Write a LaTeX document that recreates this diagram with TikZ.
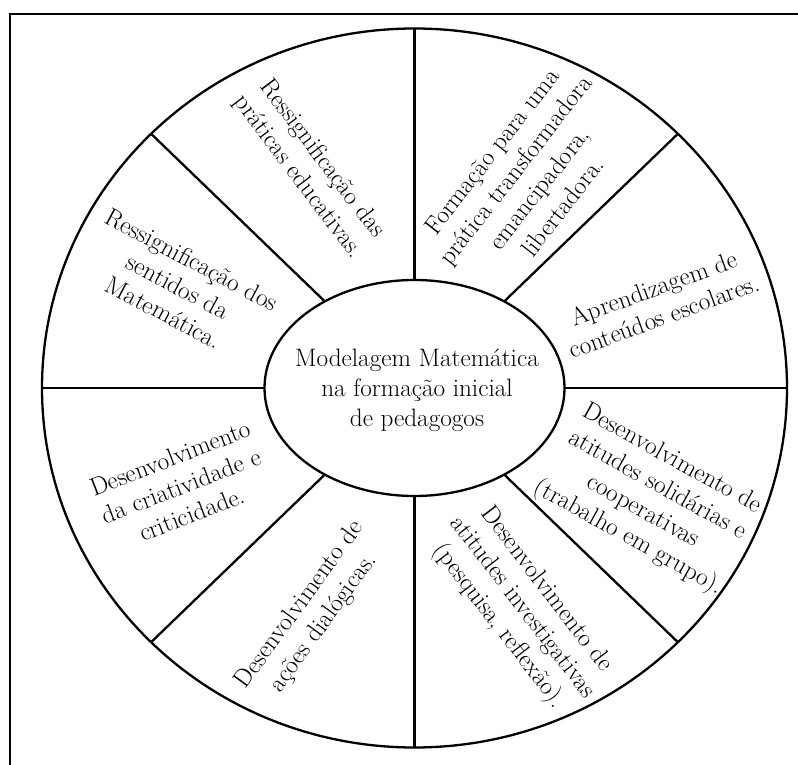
\documentclass[tikz,border=0pt]{standalone}
\usepackage{fontspec}
\usetikzlibrary{calc}
\begin{document}
\begin{tikzpicture}[x=1pt,y=1pt,
  ring/.style={line width=2.3pt},
  label/.style={align=center,inner sep=0pt,font=\fontsize{25.2}{30}\selectfont},
  divider/.style={line width=2.3pt}]
\useasboundingbox (0,0) rectangle (798,764);
% frame (only left and top edges visible)
\coordinate (fbl) at (9.5,-2);
\coordinate (ftl) at (9.5,750);
\coordinate (ftr) at (800,750);
\draw[line width=2pt] (fbl) -- (ftl) -- (ftr);
% centre
\coordinate (C) at (414.5,376);
\draw[ring] (C) ellipse [x radius=372.5, y radius=359.5];
\draw[ring] (C) ellipse [x radius=150, y radius=108];
% division points
\coordinate (oN) at (414.5,735.5);  \coordinate (iN) at (414.5,484);
\coordinate (oS) at (414.5,16.5);   \coordinate (iS) at (414.5,268);
\coordinate (oW) at (42,376);       \coordinate (iW) at (264.5,376);
\coordinate (oE) at (787,376);      \coordinate (iE) at (564.5,376);
\coordinate (oNE) at ($(C)+(263.4,254.2)$);   \coordinate (iNE) at ($(C)+(89.7,86.6)$);
\coordinate (oNW) at ($(C)+(-263.4,254.2)$);  \coordinate (iNW) at ($(C)+(-89.7,86.6)$);
\coordinate (oSW) at ($(C)+(-263.4,-254.2)$); \coordinate (iSW) at ($(C)+(-89.7,-86.6)$);
\coordinate (oSE) at ($(C)+(263.4,-254.2)$);  \coordinate (iSE) at ($(C)+(89.7,-86.6)$);
\foreach \d in {N,S,W,E,NE,NW,SW,SE} \draw[divider] (i\d) -- (o\d);
% centre text
\node[label] (core) at (417,374) {Modelagem Matemática\\na formação inicial\\de pedagogos};
% sector texts
\node[label,rotate=20] (t1) at (659,462) {Aprendizagem de\\conteúdos escolares.};
\node[label,rotate=52] (t2) at (527,585) {Formação para uma\\prática transformadora\\emancipadora,\\libertadora.};
\node[label,rotate=-53] (t3) at (310,596) {Ressignificação das\\práticas educativas.};
\node[label,rotate=-28] (t4) at (178,478) {Ressignificação dos\\sentidos da\\Matemática.};
\node[label,rotate=21] (t5) at (181,278) {Desenvolvimento\\da criatividade e\\criticidade.};
\node[label,rotate=54] (t6) at (312,150) {Desenvolvimento de\\ações dialógicas.};
\node[label,rotate=-52.5] (t7) at (522,156) {Desenvolvimento de\\atitudes investigativas\\(pesquisa, reflexão).};
\node[label,rotate=-29] (t8) at (650,265) {Desenvolvimento de\\atitudes solidárias e\\cooperativas\\(trabalho em grupo).};
\end{tikzpicture}
\end{document}
